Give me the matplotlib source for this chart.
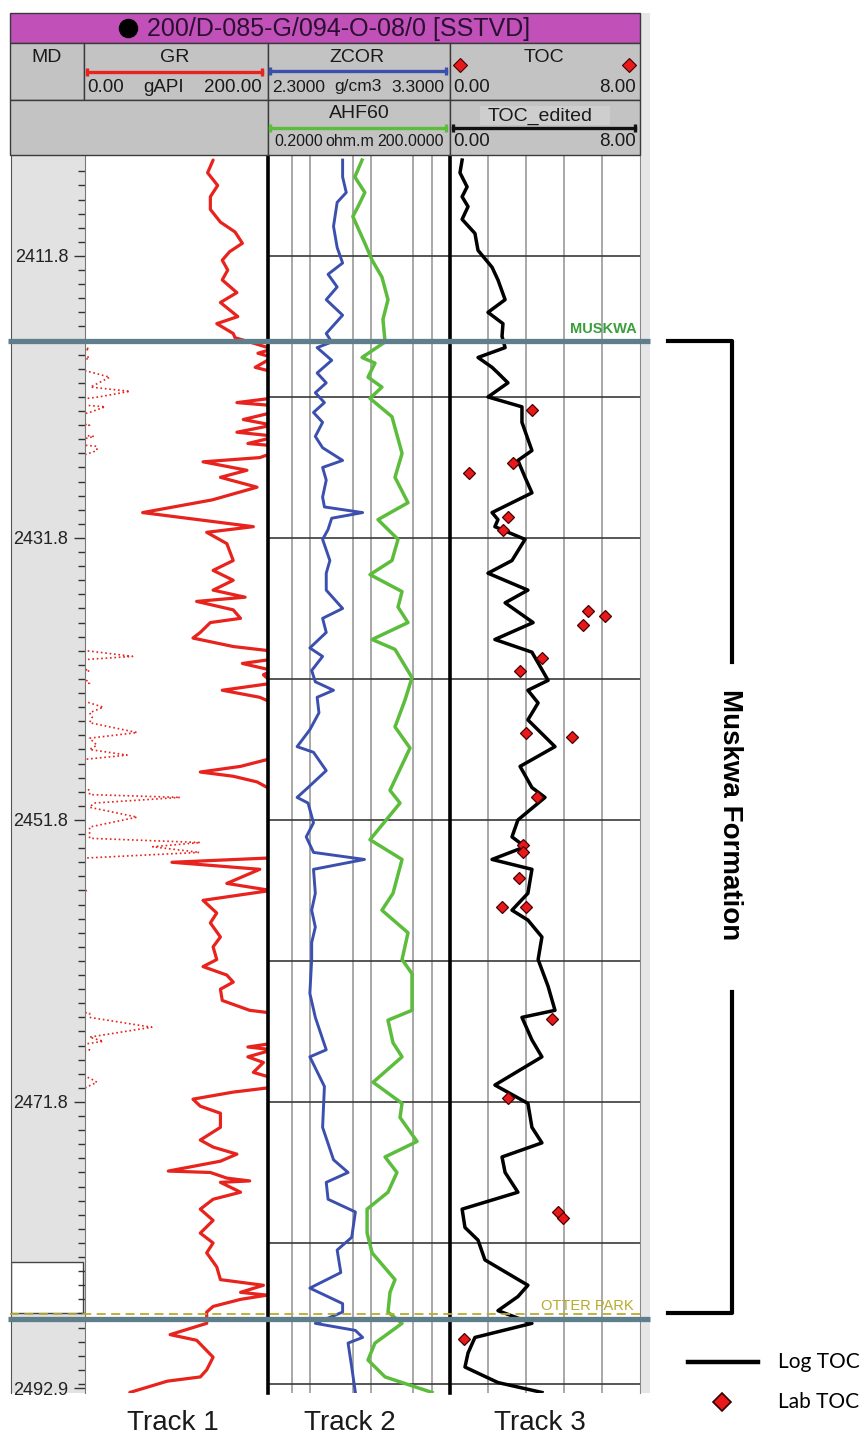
import numpy as np
import matplotlib
matplotlib.use('Agg')
import matplotlib.pyplot as plt
from matplotlib import transforms
from matplotlib.lines import Line2D
from matplotlib.patches import Rectangle
from matplotlib.ticker import FixedLocator, NullLocator

# GR in gAPI; anything above 200 wraps onto the dotted backup trace
gr_depth = [2405.0, 2405.9, 2406.8, 2407.6, 2408.5, 2409.4, 2410.1, 2410.9, 2411.5, 2412.1,
            2412.8, 2413.5, 2414.4, 2415.1, 2416.1, 2416.6, 2417.3, 2417.6, 2418.0, 2418.4,
            2418.7, 2419.0, 2419.7, 2420.1, 2420.4, 2421.1, 2421.4, 2421.8, 2422.2, 2422.5,
            2422.9, 2423.4, 2423.8, 2424.3, 2424.6, 2425.1, 2425.3, 2425.6, 2426.1, 2426.4,
            2427.0, 2427.5, 2428.2, 2429.1, 2430.0, 2431.0, 2431.4, 2432.2, 2433.4, 2434.1,
            2434.8, 2435.5, 2436.0, 2436.3, 2436.9, 2437.5, 2437.8, 2438.5, 2438.9, 2439.2,
            2439.5, 2439.9, 2440.2, 2440.4, 2440.7, 2441.2, 2441.5, 2442.1, 2442.6, 2443.1,
            2443.5, 2443.8, 2444.2, 2444.5, 2444.9, 2445.6, 2446.0, 2446.5, 2446.8, 2447.2,
            2447.5, 2448.0, 2448.4, 2448.7, 2449.1, 2449.7, 2450.0, 2450.2, 2450.6, 2450.9,
            2451.6, 2452.3, 2453.1, 2453.4, 2453.7, 2454.1, 2454.5, 2454.8, 2455.3, 2456.3,
            2456.8, 2457.5, 2458.4, 2459.1, 2460.1, 2460.8, 2461.7, 2462.2, 2462.8, 2463.3,
            2463.8, 2464.6, 2465.3, 2465.5, 2465.8, 2466.5, 2467.2, 2467.5, 2467.9, 2468.1,
            2468.6, 2469.0, 2469.7, 2470.1, 2470.4, 2470.8, 2471.1, 2471.6, 2472.1, 2472.6,
            2473.6, 2474.5, 2475.0, 2475.5, 2476.0, 2476.7, 2476.8, 2477.2, 2477.4, 2477.5,
            2478.2, 2478.7, 2479.4, 2480.2, 2481.1, 2481.8, 2482.5, 2483.5, 2484.4, 2484.8,
            2485.3, 2485.5, 2485.8, 2486.3, 2486.7, 2487.5, 2488.3, 2488.7, 2489.9, 2490.8,
            2491.3, 2491.6, 2492.4]
gr_api = [140, 134, 145, 137, 137, 148, 164, 172, 158, 150,
          156, 150, 166, 148, 167, 144, 162, 164, 185, 205,
          189, 205, 186, 210, 227, 206, 249, 215, 166, 222,
          205, 173, 205, 166, 210, 178, 213, 213, 191, 129,
          177, 148, 188, 139, 63, 184, 133, 155, 162, 140,
          162, 140, 175, 122, 162, 170, 137, 126, 118, 140,
          162, 215, 252, 205, 172, 205, 195, 205, 150, 191,
          205, 220, 205, 208, 205, 257, 205, 213, 205, 246,
          200, 170, 126, 162, 188, 205, 205, 304, 210, 205,
          257, 205, 205, 326, 274, 325, 200, 95, 191, 155,
          203, 129, 144, 137, 148, 140, 144, 129, 155, 162,
          148, 150, 180, 205, 205, 273, 205, 220, 178, 205,
          178, 195, 184, 205, 213, 200, 162, 118, 126, 148,
          148, 126, 140, 166, 148, 91, 137, 155, 180, 148,
          170, 140, 126, 140, 126, 140, 133, 144, 148, 195,
          170, 199, 170, 140, 133, 133, 93, 122, 140, 133,
          126, 90, 49]

# ZCOR bulk density, g/cm3
zcor_depth = [2405.0, 2406.2, 2407.3, 2408.0, 2409.7, 2411.2, 2412.3, 2413.1, 2414.0, 2414.9,
              2416.0, 2417.3, 2417.9, 2418.3, 2419.2, 2420.1, 2420.8, 2421.5, 2422.2, 2422.9,
              2423.6, 2424.6, 2425.4, 2426.3, 2426.8, 2427.7, 2428.9, 2429.6, 2430.0, 2430.4,
              2431.2, 2431.9, 2433.4, 2434.3, 2435.5, 2436.8, 2437.5, 2438.5, 2439.6, 2440.2,
              2441.2, 2442.0, 2442.6, 2443.1, 2444.2, 2445.4, 2446.6, 2447.0, 2448.3, 2449.5,
              2450.2, 2450.6, 2452.0, 2453.0, 2454.1, 2454.6, 2455.3, 2457.0, 2458.2, 2459.4,
              2460.5, 2461.7, 2464.1, 2465.8, 2468.1, 2468.6, 2470.7, 2473.6, 2475.9, 2476.8,
              2477.5, 2478.7, 2479.6, 2481.4, 2482.3, 2483.9, 2485.0, 2486.1, 2486.7, 2487.5,
              2488.0, 2488.5, 2488.9, 2490.6, 2492.4]
zcor = [2.71, 2.71, 2.73, 2.68, 2.66, 2.68, 2.71, 2.63, 2.68, 2.62,
        2.71, 2.62, 2.65, 2.57, 2.65, 2.57, 2.62, 2.56, 2.61, 2.55,
        2.60, 2.56, 2.60, 2.71, 2.60, 2.62, 2.60, 2.61, 2.82, 2.65,
        2.63, 2.60, 2.64, 2.62, 2.62, 2.71, 2.60, 2.62, 2.53, 2.60,
        2.54, 2.56, 2.66, 2.57, 2.58, 2.53, 2.46, 2.55, 2.62, 2.52,
        2.46, 2.52, 2.55, 2.51, 2.55, 2.83, 2.55, 2.56, 2.54, 2.56,
        2.54, 2.54, 2.53, 2.56, 2.62, 2.53, 2.61, 2.60, 2.66, 2.74,
        2.62, 2.63, 2.78, 2.76, 2.68, 2.70, 2.53, 2.71, 2.71, 2.56,
        2.78, 2.82, 2.74, 2.76, 2.78]

# AHF60 resistivity, ohm.m
ahf_depth = [2405.0, 2406.2, 2407.3, 2408.3, 2409.0, 2410.9, 2412.1, 2413.3, 2414.9, 2416.3,
             2417.9, 2419.0, 2419.4, 2420.4, 2421.1, 2421.9, 2423.2, 2425.8, 2427.5, 2429.3,
             2430.5, 2431.9, 2433.4, 2434.4, 2435.6, 2436.7, 2437.8, 2439.0, 2439.7, 2441.7,
             2443.3, 2445.2, 2446.7, 2449.7, 2450.6, 2453.2, 2454.6, 2457.0, 2458.2, 2459.8,
             2461.7, 2462.7, 2465.3, 2466.0, 2467.6, 2468.6, 2470.4, 2471.9, 2472.9, 2474.6,
             2475.7, 2476.8, 2478.2, 2479.4, 2481.1, 2482.5, 2484.4, 2485.3, 2486.7, 2487.5,
             2488.9, 2490.1, 2491.3, 2492.4]
ahf60 = [7.1, 5.4, 7.9, 6.1, 5.0, 7.9, 10.4, 15.1, 19.0, 15.7,
         17.0, 7.1, 11.6, 8.9, 15.1, 9.6, 22.1, 32.4, 24.8, 40.6,
         13.0, 27.8, 22.1, 9.6, 32.4, 27.8, 40.6, 10.4, 24.8, 47.3,
         36.2, 24.8, 43.8, 20.5, 30.0, 9.6, 32.4, 23.0, 15.1, 40.6,
         32.4, 47.3, 47.3, 19.0, 23.0, 32.4, 10.8, 32.4, 30.0, 57.2,
         17.0, 26.7, 19.0, 8.6, 8.6, 10.4, 24.8, 20.5, 19.0, 32.4,
         11.6, 8.9, 17.0, 101]

# TOC from logs (TOC_edited), wt%
toc_depth = [2405.0, 2405.9, 2406.9, 2407.6, 2408.3, 2409.2, 2410.2, 2411.4, 2412.6, 2413.5,
             2414.9, 2415.8, 2416.6, 2417.5, 2418.3, 2419.0, 2419.7, 2420.1, 2420.8, 2421.8,
             2422.5, 2423.6, 2425.6, 2426.3, 2427.5, 2428.6, 2430.0, 2430.5, 2431.0, 2431.9,
             2433.4, 2434.3, 2435.5, 2436.4, 2437.8, 2439.0, 2439.9, 2441.9, 2442.6, 2443.5,
             2444.7, 2446.6, 2448.0, 2449.5, 2450.2, 2451.8, 2453.0, 2453.7, 2454.6, 2455.3,
             2457.0, 2458.2, 2458.9, 2460.1, 2461.7, 2463.6, 2465.3, 2465.8, 2467.4, 2468.6,
             2470.6, 2471.9, 2473.6, 2474.7, 2475.7, 2476.8, 2478.2, 2479.4, 2480.7, 2481.6,
             2483.0, 2484.8, 2485.6, 2486.6, 2487.5, 2488.5, 2489.6, 2490.6, 2491.7, 2492.4]
toc_log = [0.51, 0.42, 0.72, 0.51, 0.76, 0.51, 1.05, 1.18, 1.77, 2.02,
           2.32, 1.60, 2.23, 2.19, 2.32, 1.18, 1.77, 2.02, 2.44, 1.60,
           3.03, 3.03, 3.45, 2.86, 3.16, 3.45, 1.77, 2.02, 1.89, 3.16,
           2.61, 1.60, 3.28, 2.32, 3.50, 1.89, 3.45, 4.13, 3.28, 3.71,
           3.28, 4.42, 2.95, 3.45, 4.00, 2.86, 2.61, 3.16, 1.77, 3.45,
           3.28, 2.61, 3.28, 3.87, 3.71, 4.13, 4.42, 3.03, 3.45, 3.87,
           1.89, 3.28, 3.45, 3.87, 2.19, 2.32, 2.86, 0.51, 0.63, 1.18,
           1.47, 3.28, 2.86, 2.02, 3.45, 1.05, 0.76, 0.63, 2.02, 3.87]

# lab TOC samples
lab_depth = [2422.7, 2426.5, 2427.2, 2430.3, 2431.2, 2437.0, 2437.3, 2438.0, 2440.3, 2441.2,
             2445.9, 2445.6, 2450.2, 2453.6, 2454.1, 2455.9, 2458.0, 2458.0, 2465.9, 2471.5,
             2479.6, 2480.0, 2488.6]
lab_toc = [3.45, 2.65, 0.80, 2.44, 2.23, 5.81, 6.53, 5.60, 3.87, 2.95,
           5.14, 3.20, 3.66, 3.07, 3.07, 2.91, 2.19, 3.20, 4.30, 2.44,
           4.55, 4.76, 0.59]

depth_ticks = [2411.8, 2431.8, 2451.8, 2471.8, 2492.1]
depth_labels = ['2411.8', '2431.8', '2451.8', '2471.8', '2492.9']
grid_depths = [2411.8, 2421.8, 2431.8, 2441.8, 2451.8, 2461.8, 2471.8, 2481.8, 2491.8]
tops_name = ['MUSKWA', 'OTTER PARK']
tops_depth = [2417.8, 2487.2]
track_names = ['Track 1', 'Track 2', 'Track 3']

W, H = 864, 1434
Y0, Y1 = 155, 1393            # pixel rows of the track area
TOP, BASE = 2404.64, 2492.44   # depth shown at those rows

plt.rcParams['font.family'] = ['Liberation Sans', 'DejaVu Sans']
fig = plt.figure(figsize=(W / 100, H / 100), dpi=100)


def fx(x):
    return x / W


def fy(y):
    return 1 - y / H


def panel(x0, x1):
    ax = fig.add_axes([fx(x0), fy(Y1), (x1 - x0) / W, (Y1 - Y0) / H])
    ax.set_ylim(BASE, TOP)
    for s in ax.spines.values():
        s.set_visible(False)
    return ax


# depth track
ax_md = panel(11, 85)
ax_md.set_facecolor('#e2e2e2')
ax_md.set_xticks([])
ax_md.set_yticks([])
ax_md.spines['left'].set_visible(True)
ax_md.spines['left'].set_color('#555555')
ax_md.axhspan(2483.15, 2486.75, xmax=0.97, fc='white', ec='#444444', lw=1)

# track 1: GR
ax_gr = panel(85, 268)
ax_gr.set_xlim(0, 200)
ax_gr.set_xticks([])
ax_gr.set_yticks(depth_ticks)
ax_gr.set_yticklabels(depth_labels)
ax_gr.yaxis.set_minor_locator(FixedLocator(np.arange(2405.8, 2492.0, 1.0)))
ax_gr.tick_params(axis='y', which='major', length=8, width=1, color='#333333',
                  labelsize=13, labelcolor='#222222', pad=4)
ax_gr.tick_params(axis='y', which='minor', length=5, width=1, color='#333333')
ax_gr.spines['left'].set_visible(True)
ax_gr.spines['left'].set_color('#777777')
gr = np.array(gr_api, dtype=float)
ax_gr.plot(gr, gr_depth, color='#e8221c', lw=2.3, solid_joinstyle='round',
           solid_capstyle='round')
ax_gr.plot(gr - 200, gr_depth, color='#e8221c', lw=1.2, ls=':')   # wrap-around

# track 2: AHF60 (log) + ZCOR
ax_t2 = panel(268, 450)
ax_t2.set_xscale('log')
ax_t2.set_xlim(0.2, 200)
ax_t2.xaxis.set_major_locator(FixedLocator([0.5, 1, 5, 10, 50, 100]))
ax_t2.xaxis.set_minor_locator(NullLocator())
ax_t2.set_yticks(grid_depths)
ax_t2.tick_params(length=0, labelbottom=False, labelleft=False)
ax_t2.grid(axis='x', color='#9a9a9a', lw=1.2)
ax_t2.grid(axis='y', color='#3a3a3a', lw=1.2)
ax_t2.set_axisbelow(True)
ax_t2.spines['left'].set_visible(True)
ax_t2.spines['left'].set_linewidth(2.6)
ax_t2.spines['left'].set_color('black')
ax_t2.plot(ahf60, ahf_depth, color='#5cbd3c', lw=2.5, solid_joinstyle='round')

ax_z = ax_t2.twiny()
ax_z.set_xlim(2.3, 3.3)
ax_z.set_xticks([])
for s in ax_z.spines.values():
    s.set_visible(False)
ax_z.plot(zcor, zcor_depth, color='#3b4fae', lw=2.1, solid_joinstyle='round')

# track 3: TOC
ax_t3 = panel(450, 640)
ax_t3.set_xlim(0, 8)
ax_t3.set_xticks([1.6, 3.2, 4.8, 6.4])
ax_t3.set_yticks(grid_depths)
ax_t3.tick_params(length=0, labelbottom=False, labelleft=False)
ax_t3.grid(axis='x', color='#9a9a9a', lw=1.2)
ax_t3.grid(axis='y', color='#3a3a3a', lw=1.2)
ax_t3.set_axisbelow(True)
ax_t3.spines['left'].set_visible(True)
ax_t3.spines['left'].set_linewidth(2.6)
ax_t3.spines['left'].set_color('black')
ax_t3.spines['right'].set_visible(True)
ax_t3.spines['right'].set_color('#888888')
ax_t3.plot(toc_log, toc_depth, color='black', lw=2.5, solid_joinstyle='round')
ax_t3.plot(lab_toc, lab_depth, ls='none', marker='D', ms=6.5,
           mfc='#e8191b', mec='#4a0000', mew=0.9)

fig.add_artist(Rectangle((fx(641), fy(Y1)), 9 / W, (Y1 - 13) / H, transform=fig.transFigure,
                         fc='#e6e6e6', ec='none'))

# formation tops
yx = ax_t3.get_yaxis_transform()
ax_t3.text(0.985, tops_depth[0] - 0.35, tops_name[0], transform=yx, ha='right', va='bottom',
           color='#3a9e3a', fontsize=10.5, fontweight='bold')
ax_t3.text(0.965, tops_depth[1] - 0.45, tops_name[1], transform=yx, ha='right', va='bottom',
           color='#b8aa2a', fontsize=10.5)

trans = transforms.blended_transform_factory(fig.transFigure, ax_gr.transData)
fig.add_artist(Line2D([fx(10), fx(640)], [tops_depth[1] - 0.35] * 2, transform=trans,
                      color='#b9ad2c', lw=1.3, ls=(0, (5, 3)), zorder=4))
for d in tops_depth:
    fig.add_artist(Line2D([fx(8), fx(650)], [d, d], transform=trans, color='#5e7e8b',
                          lw=3.8, solid_capstyle='butt', zorder=5))

# Muskwa bracket
top, bot = tops_depth[0], tops_depth[1] - 0.4
mid = (top + bot) / 2
fig.add_artist(Line2D([fx(668), fx(732), fx(732)], [top, top, mid - 11.7], transform=trans,
                      color='black', lw=3, solid_joinstyle='round'))
fig.add_artist(Line2D([fx(732), fx(732), fx(668)], [mid + 11.7, bot, bot], transform=trans,
                      color='black', lw=3, solid_joinstyle='round'))
fig.text(fx(730), mid - 0.9, 'Muskwa Formation', transform=trans, rotation=-90,
         ha='center', va='center', fontsize=20, fontweight='bold')

# legend
fig.add_artist(Line2D([fx(688), fx(758)], [fy(1362)] * 2, transform=fig.transFigure,
                      color='black', lw=3.2))
fig.add_artist(Line2D([fx(722)], [fy(1402)], transform=fig.transFigure, ls='none', marker='D',
                      ms=9, mfc='#e8191b', mec='#300000', mew=1.2))
fig.text(fx(778), fy(1362), 'Log TOC', va='center', fontsize=15, family=['Lato', 'DejaVu Sans'])
fig.text(fx(778), fy(1402), 'Lab TOC', va='center', fontsize=15, family=['Lato', 'DejaVu Sans'])

for name, x in zip(track_names, [173, 350, 540]):
    fig.text(fx(x), fy(1430), name, ha='center', va='baseline', fontsize=20, color='#1a1a1a')

# ---- header ----
HG = '#c3c3c3'


def hbox(x0, y0, x1, y1, fc, ec='#3a3a3a', lw=1.0):
    fig.add_artist(Rectangle((fx(x0), fy(y1)), (x1 - x0) / W, (y1 - y0) / H,
                             transform=fig.transFigure, fc=fc, ec=ec, lw=lw))


def htext(x, y, s, ha='center', size=14):
    fig.text(fx(x), fy(y), s, ha=ha, va='center', fontsize=size, color='#1a1a1a')


def hbar(x0, x1, y, color):
    fig.add_artist(Line2D([fx(x0), fx(x1)], [fy(y)] * 2, transform=fig.transFigure,
                          color=color, lw=2.4, marker='|', ms=6, mew=2.4))


hbox(10, 13, 640, 43, '#c150b9')
for x0, x1 in [(10, 84), (84, 268), (268, 450), (450, 640)]:
    hbox(x0, 43, x1, 100, HG)
for x0, x1 in [(10, 268), (268, 450), (450, 640)]:
    hbox(x0, 100, x1, 155, HG)
hbox(480, 106, 610, 125, '#cecece', ec='none')

fig.add_artist(Line2D([fx(128)], [fy(28)], transform=fig.transFigure, marker='o', ms=13,
                      color='black', ls='none'))
fig.text(fx(147), fy(29), '200/D-085-G/094-O-08/0 [SSTVD]', ha='left', va='center',
         fontsize=18, color='#2a1030')

htext(47, 58, 'MD')
htext(175, 58, 'GR')
hbar(87, 262, 72, '#e8221c')
htext(87, 87, '0.00', ha='left', size=13.5)
htext(164, 87, 'gAPI', size=13.5)
htext(262, 87, '200.00', ha='right', size=13.5)

htext(357, 58, 'ZCOR')
hbar(270, 446, 71, '#3b4fae')
htext(272, 87, '2.3000', ha='left', size=12.5)
htext(358, 87, 'g/cm3', size=12.5)
htext(444, 87, '3.3000', ha='right', size=12.5)

htext(544, 58, 'TOC')
fig.add_artist(Line2D([fx(460), fx(629)], [fy(65)] * 2, transform=fig.transFigure, ls='none',
                      marker='D', ms=7, mfc='#e8191b', mec='#400000', mew=0.8))
htext(453, 87, '0.00', ha='left', size=13.5)
htext(636, 87, '8.00', ha='right', size=13.5)

htext(359, 114, 'AHF60')
hbar(270, 446, 128, '#5cbd3c')
htext(274, 142, '0.2000', ha='left', size=11.5)
htext(350, 142, 'ohm.m', size=11.5)
htext(444, 142, '200.0000', ha='right', size=11.5)

htext(540, 116, 'TOC_edited')
hbar(453, 635, 128, '#111111')
htext(453, 142, '0.00', ha='left', size=13.5)
htext(636, 142, '8.00', ha='right', size=13.5)

fig.savefig('out.png', dpi=100, facecolor='white')
